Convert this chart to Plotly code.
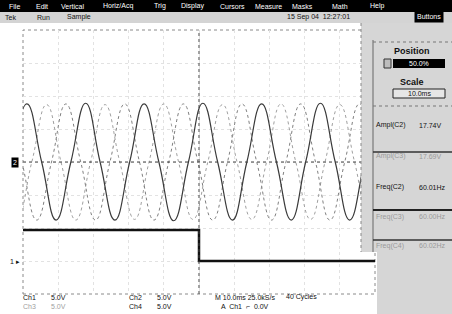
import plotly.graph_objects as go

# ---------------- data ----------------
# time in ms, volts; 10 ms/div, 5 V/div
ch1_t = [-50, 0, 0, 50]
ch1_v = [4.7, 4.7, 0, 0]

c2_t = [-53.1, -48.9, -44.7, -40.6, -36.4, -32.2, -28.1, -23.9, -19.7, -15.6, -11.4, -7.2,
        -3.0, 1.1, 5.3, 9.5, 13.6, 17.8, 22.0, 26.2, 30.3, 34.5, 38.7, 42.8, 47.0, 51.2]
c2_v = [0, 8.8, 0, -8.8, 0, 8.9, 0, -8.8, 0, 8.8, 0, -8.9,
        0, 8.9, 0, -8.8, 0, 8.8, 0, -8.8, 0, 8.9, 0, -8.8, 0, 8.8]

c3_t = [-60.0, -55.8, -51.7, -47.5, -43.3, -39.2, -35.0, -30.8, -26.7, -22.5, -18.3, -14.2,
        -10.0, -5.8, -1.7, 2.5, 6.7, 10.8, 15.0, 19.2, 23.3, 27.5, 31.7, 35.8, 40.0, 44.2, 48.3, 52.5]
c3_v = [8.7, 0, -8.7, 0, 8.7, 0, -8.8, 0, 8.7, 0, -8.7, 0,
        8.8, 0, -8.7, 0, 8.7, 0, -8.7, 0, 8.8, 0, -8.7, 0, 8.7, 0, -8.7, 0]

c4_t = [-54.4, -50.3, -46.1, -41.9, -37.8, -33.6, -29.4, -25.3, -21.1, -16.9, -12.8, -8.6,
        -4.4, -0.3, 3.9, 8.1, 12.2, 16.4, 20.6, 24.7, 28.9, 33.1, 37.2, 41.4, 45.6, 49.7, 53.9]
c4_v = [8.8, 0, -8.8, 0, 8.8, 0, -8.8, 0, 8.8, 0, -8.8, 0,
        8.8, 0, -8.8, 0, 8.8, 0, -8.8, 0, 8.8, 0, -8.8, 0, 8.8, 0, -8.8]

volts_per_div = 5.0
ch1_offset_div = -3.0
menu_items = ["File", "Edit", "Vertical", "Horiz/Acq", "Trig", "Display",
              "Cursors", "Measure", "Masks", "Math", "Help"]
menu_x = [14, 42, 72, 118, 160, 192, 232, 268, 302, 340, 377]
meas_labels = ["Ampl(C2)", "Ampl(C3)", "Freq(C2)", "Freq(C3)", "Freq(C4)"]
meas_values = ["17.74V", "17.69V", "60.01Hz", "60.00Hz", "60.02Hz"]
meas_y = [125, 156, 187, 217, 246]
meas_dark = [True, False, True, False, False]

# ---------------- layout helpers ----------------
W, H = 452, 314
L, R, T, B = 23, 375, 30, 294


def px(x):
    return (x - L) / (R - L)


def py(y):
    return (B - y) / (B - T)


FONT = "Liberation Sans"

fig = go.Figure()

fig.add_trace(go.Scatter(x=c3_t, y=[v / volts_per_div for v in c3_v], mode="lines",
                         line=dict(color="#a0a0a0", width=1, shape="spline", smoothing=1.3, dash="dot"),
                         hoverinfo="skip", showlegend=False))
fig.add_trace(go.Scatter(x=c4_t, y=[v / volts_per_div for v in c4_v], mode="lines",
                         line=dict(color="#808080", width=1, shape="spline", smoothing=1.3, dash="dot"),
                         hoverinfo="skip", showlegend=False))
fig.add_trace(go.Scatter(x=c2_t, y=[v / volts_per_div for v in c2_v], mode="lines",
                         line=dict(color="#3a3a3a", width=1.2, shape="spline", smoothing=1.3),
                         hoverinfo="skip", showlegend=False))
fig.add_trace(go.Scatter(x=ch1_t, y=[v / volts_per_div + ch1_offset_div for v in ch1_v], mode="lines",
                         line=dict(color="#111111", width=2.5),
                         hoverinfo="skip", showlegend=False))

shapes = []
# graticule border
shapes.append(dict(type="rect", xref="paper", yref="paper", x0=0, x1=1, y0=0, y1=1,
                   line=dict(color="#8a8a8a", width=1, dash="dot"), layer="below"))
# center crosshair
shapes.append(dict(type="line", xref="x", yref="y", x0=0, x1=0, y0=-4, y1=4,
                   line=dict(color="#444444", width=1, dash="dot")))
shapes.append(dict(type="line", xref="x", yref="y", x0=-50, x1=50, y0=0, y1=0,
                   line=dict(color="#444444", width=1.2, dash="dot")))


def rect(x0, y0, x1, y1, fill, line=None, layer="above"):
    shapes.append(dict(type="rect", xref="paper", yref="paper",
                       x0=px(x0), x1=px(x1), y0=py(y1), y1=py(y0),
                       fillcolor=fill, line=line or dict(width=0), layer=layer))


def hline(x0, x1, y, color="#333333", width=1, dash="solid"):
    shapes.append(dict(type="line", xref="paper", yref="paper",
                       x0=px(x0), x1=px(x1), y0=py(y), y1=py(y),
                       line=dict(color=color, width=width, dash=dash), layer="above"))


def vline(x, y0, y1, color="#333333", width=1, dash="solid"):
    shapes.append(dict(type="line", xref="paper", yref="paper",
                       x0=px(x), x1=px(x), y0=py(y0), y1=py(y1),
                       line=dict(color=color, width=width, dash=dash), layer="above"))


# menu bar and status row
rect(0, 0, 452, 12, "#000000")
rect(0, 12, 452, 23, "#d4d4d4")
# right panel
rect(361, 23, 452, 252, "#d6d6d6")
rect(377, 252, 452, 314, "#d6d6d6")
vline(361, 23, 252, "#888888", 1, "dot")
vline(373, 40, 252, "#666666", 1)
hline(373, 452, 42, "#777777", 1, "dot")
hline(373, 452, 106, "#777777", 1, "dot")
hline(373, 452, 152, "#333333", 1.5)
hline(373, 452, 210, "#222222", 2)
hline(373, 452, 240, "#333333", 1.5)
# position / scale boxes
rect(384, 59, 391, 68, "#bdbdbd", dict(color="#333333", width=1))
rect(393, 59, 445, 68, "#000000")
rect(393, 89, 445, 98, "#e6e6e6", dict(color="#222222", width=1))

ann = []


def txt(x, y, s, size=7, color="#111111", anchor="left", bold=False, bg=None, pad=0):
    ann.append(dict(x=px(x), y=py(y), xref="paper", yref="paper", text=("<b>%s</b>" % s) if bold else s,
                    showarrow=False, xanchor=anchor, yanchor="middle",
                    font=dict(family=FONT, size=size, color=color),
                    bgcolor=bg, borderpad=pad))


for s, x in zip(menu_items, menu_x):
    txt(x, 6, s, 7, "#ffffff", "center")

txt(4, 17.5, "Tek", 7)
txt(36, 17.5, "Run", 7)
txt(66, 17.5, "Sample", 7)
txt(286, 17.5, "15 Sep 04  12:27:01", 7)
txt(429, 16, "Buttons", 7, "#ffffff", "center", bg="#000000", pad=2)

txt(412, 51, "Position", 9, "#111111", "center", bold=True)
txt(419, 63.5, "50.0%", 7, "#ffffff", "center")
txt(412, 82, "Scale", 9, "#111111", "center", bold=True)
txt(419, 93.5, "10.0ms", 7, "#111111", "center")

for lab, val, y, dark in zip(meas_labels, meas_values, meas_y, meas_dark):
    col = "#111111" if dark else "#9a9a9a"
    txt(375, y, lab, 7, col)
    txt(418, y, val, 7, col)

# channel markers
txt(15, 162, "2", 7, "#ffffff", "center", bg="#000000", pad=1)
txt(9, 261, "1 ▸", 7, "#111111")

# bottom readouts
txt(22, 297, "Ch1", 7)
txt(50, 297, "5.0V", 7)
txt(22, 306, "Ch3", 7, "#a0a0a0")
txt(50, 306, "5.0V", 7, "#a0a0a0")
txt(128, 297, "Ch2", 7)
txt(156, 297, "5.0V", 7)
txt(128, 306, "Ch4", 7)
txt(156, 306, "5.0V", 7)
txt(214, 297, "M 10.0ms 25.0kS/s", 7)
txt(285, 297, "40 Cycles", 7)
txt(220, 306, "A  Ch1  ⌐  0.0V", 7)

fig.update_layout(
    width=W, height=H,
    margin=dict(l=L, r=W - R, t=T, b=H - B),
    paper_bgcolor="#ffffff", plot_bgcolor="#ffffff",
    shapes=shapes, annotations=ann, showlegend=False,
    xaxis=dict(range=[-50, 50], dtick=10, showgrid=True, gridcolor="#e2e2e2", griddash="dot",
               gridwidth=1, zeroline=False, showticklabels=False, ticks="", fixedrange=True),
    yaxis=dict(range=[-4, 4], dtick=1, showgrid=True, gridcolor="#e2e2e2", griddash="dot",
               gridwidth=1, zeroline=False, showticklabels=False, ticks="", fixedrange=True),
)

fig.write_html("out.html", config={"displayModeBar": False},
               post_script="document.body.style.margin='0';document.body.style.overflow='hidden';")
